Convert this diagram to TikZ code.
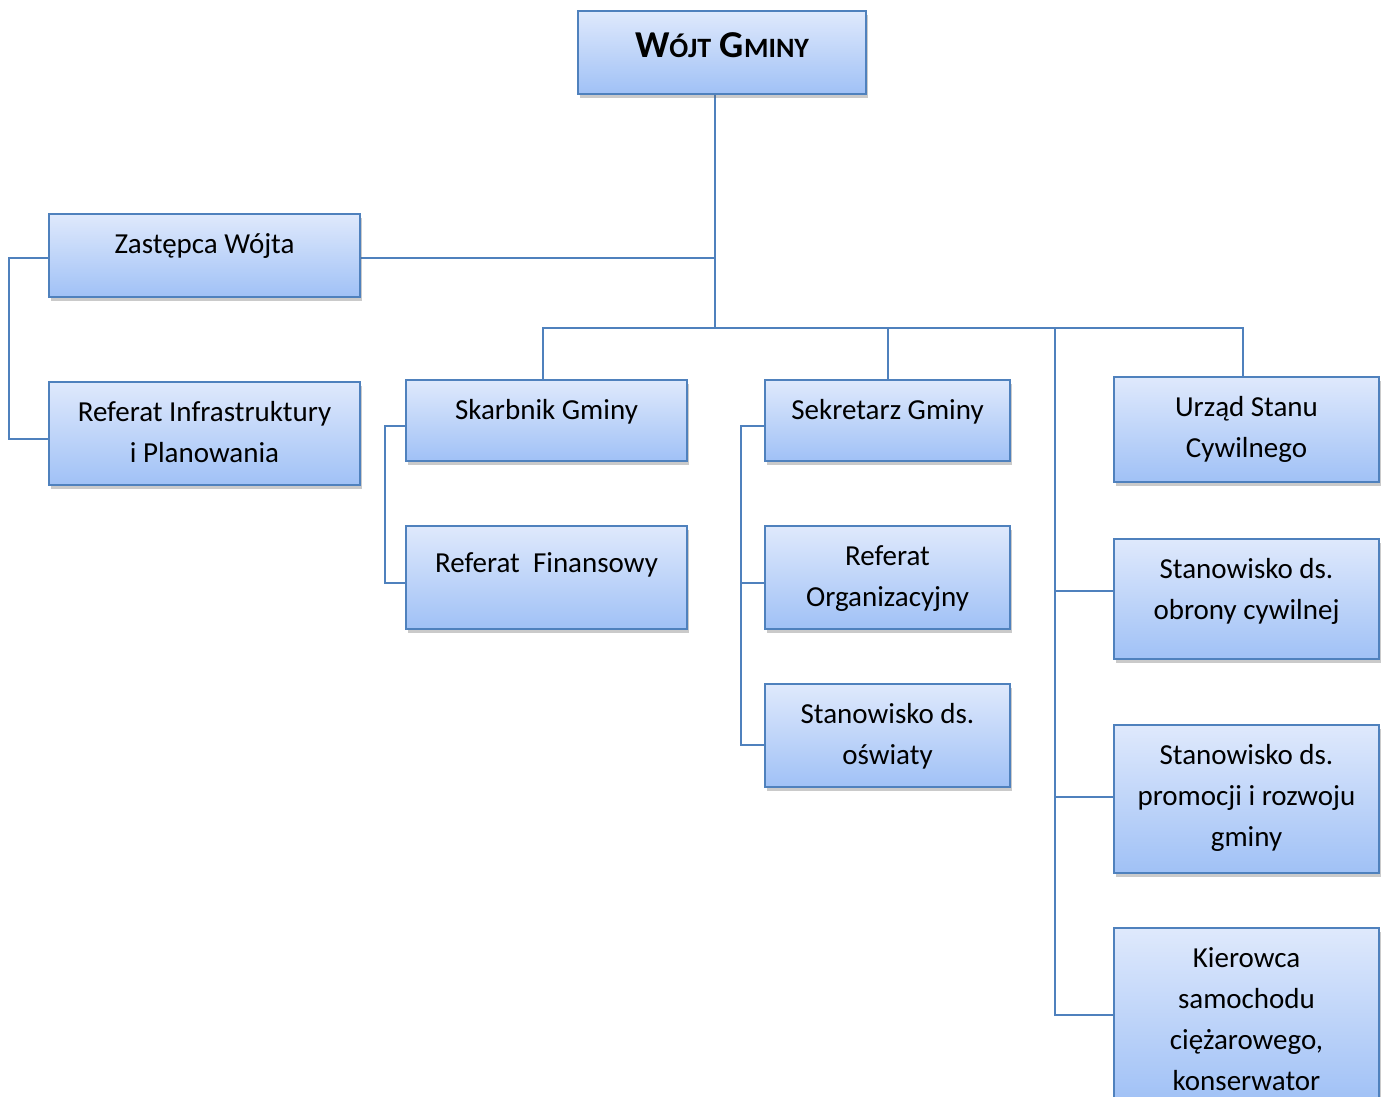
\documentclass[tikz,border=0pt]{standalone}
\usepackage{fontspec}
\setmainfont{Carlito}
\usepackage{tikz}
\usetikzlibrary{positioning, shadows, backgrounds}

\definecolor{wordblue}{RGB}{79,129,189}
\definecolor{boxtop}{RGB}{223,233,252}
\definecolor{boxbottom}{RGB}{160,193,246}

\tikzset{
  unit/.style={draw=wordblue, line width=2pt, inner sep=0pt, anchor=north west,
    top color=boxtop, bottom color=boxbottom,
    drop shadow={shadow xshift=2pt, shadow yshift=-4pt, opacity=0.35, fill=black!60}},
  link/.style={draw=wordblue, line width=2pt}
}

% text of a box: [top pad], width, height, lines
\newcommand{\boxtxt}[4][10.3pt]{\parbox[c][#3][t]{#2}{\centering\vspace*{#1}\strut #4}}

\begin{document}
\begin{tikzpicture}[x=1pt, y=-1pt, font=\fontsize{29}{41}\selectfont]
  \useasboundingbox (0,0) rectangle (1384,1097);

  \node[unit] (wojt) at (577,10) {\fontsize{38}{52}\selectfont\bfseries
    \boxtxt{288pt}{83pt}{W{\fontsize{28}{52}\selectfont ÓJT} G{\fontsize{28}{52}\selectfont MINY}}};

  \node[unit] (zastepca) at (48,213) {\boxtxt{311pt}{83pt}{Zastępca Wójta}};
  \node[unit] (infra) at (48,381) {\boxtxt{311pt}{103pt}{Referat Infrastruktury\\ i Planowania}};

  \node[unit] (skarbnik) at (405,379) {\boxtxt{281pt}{81pt}{Skarbnik Gminy}};
  \node[unit] (finanse) at (405,525) {\boxtxt[18pt]{281pt}{103pt}{Referat\ \ Finansowy}};

  \node[unit] (sekretarz) at (764,379) {\boxtxt{245pt}{81pt}{Sekretarz Gminy}};
  \node[unit] (organiz) at (764,525) {\boxtxt{245pt}{103pt}{Referat\\ Organizacyjny}};
  \node[unit] (oswiata) at (764,683) {\boxtxt{245pt}{103pt}{Stanowisko ds.\\ oświaty}};

  \node[unit] (usc) at (1113,376) {\boxtxt{265pt}{105pt}{Urząd Stanu\\ Cywilnego}};
  \node[unit] (obrona) at (1113,538) {\boxtxt{265pt}{120pt}{Stanowisko ds.\\ obrony cywilnej}};
  \node[unit] (promocja) at (1113,724) {\boxtxt{265pt}{148pt}{Stanowisko ds.\\ promocji i rozwoju\\ gminy}};
  \node[unit] (kierowca) at (1113,927) {\boxtxt{265pt}{174pt}{Kierowca\\ samochodu\\ ciężarowego,\\ konserwator}};

  \coordinate (hub) at (715,328);
  \coordinate (spine) at (1055,328);

  \begin{scope}[on background layer]
    \draw[link] (wojt.south -| hub) -- (hub);
    \draw[link] ([yshift=-2pt]zastepca.east) -- ([yshift=-2pt]zastepca.east -| hub);
    \draw[link] ([yshift=-2pt]zastepca.west) -- ++(-39,0) |- ([yshift=-5pt]infra.west);
    \draw[link] ([xshift=-4pt]skarbnik.north) -- ([xshift=-4pt]skarbnik.north |- hub)
      -| ([xshift=-4pt]usc.north);
    \draw[link] (sekretarz.north) -- (sekretarz.north |- hub);
    \draw[link] ([yshift=-5pt]skarbnik.west) -- ++(-20,0) |- ([yshift=-5pt]finanse.west);
    \draw[link] ([yshift=-5pt]sekretarz.west) -- ++(-23,0) |- ([yshift=-9pt]oswiata.west);
    \draw[link] ([yshift=-5pt]organiz.west) -- ++(-23,0);
    \draw[link] (spine) |- (kierowca.west);
    \draw[link] (spine |- obrona.west) ++(0,-8) -- ([yshift=8pt]obrona.west);
    \draw[link] (spine |- promocja.west) ++(0,-2) -- ([yshift=2pt]promocja.west);
  \end{scope}
\end{tikzpicture}
\end{document}
